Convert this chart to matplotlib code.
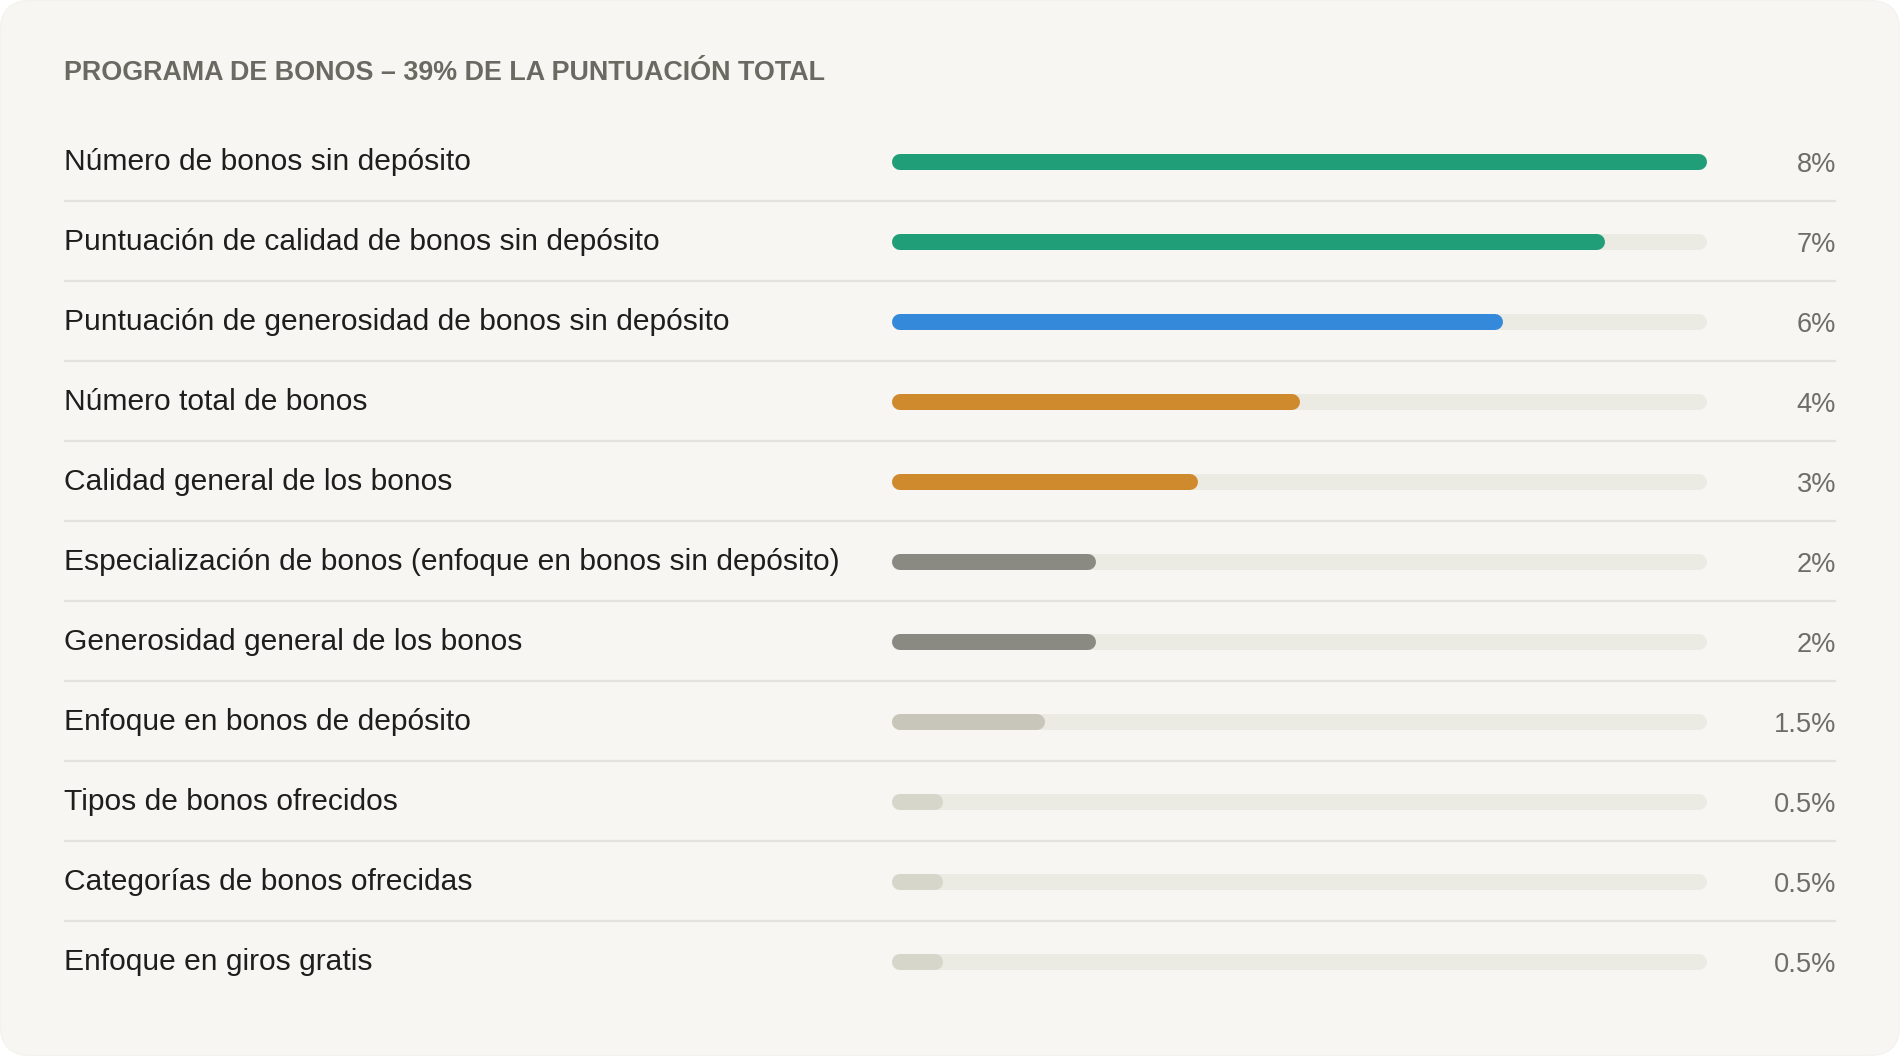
import numpy as np
import matplotlib.pyplot as plt
from matplotlib.patches import FancyBboxPatch

# datos del gráfico
categorias = [
    "Número de bonos sin depósito",
    "Puntuación de calidad de bonos sin depósito",
    "Puntuación de generosidad de bonos sin depósito",
    "Número total de bonos",
    "Calidad general de los bonos",
    "Especialización de bonos (enfoque en bonos sin depósito)",
    "Generosidad general de los bonos",
    "Enfoque en bonos de depósito",
    "Tipos de bonos ofrecidos",
    "Categorías de bonos ofrecidas",
    "Enfoque en giros gratis",
]
pesos = [8, 7, 6, 4, 3, 2, 2, 1.5, 0.5, 0.5, 0.5]
peso_max = 8
colores = ["#1f9e78", "#1f9e78", "#3589db", "#d08a2e", "#d08a2e",
           "#8a8a82", "#8a8a82", "#c8c6ba", "#d7d6cb", "#d7d6cb", "#d7d6cb"]
titulo = "PROGRAMA DE BONOS – 39% DE LA PUNTUACIÓN TOTAL"

plt.rcParams['font.family'] = ['Liberation Sans', 'DejaVu Sans']

W, H = 1900, 1056
fig = plt.figure(figsize=(W / 100, H / 100), dpi=100)
fig.patch.set_facecolor('white')

# fondo tipo tarjeta
bg = fig.add_axes([0, 0, 1, 1])
bg.set_xlim(0, W)
bg.set_ylim(H, 0)
bg.axis('off')
bg.add_patch(FancyBboxPatch((0.5, 0.5), W - 1, H - 1,
                            boxstyle='round,pad=0,rounding_size=30',
                            fc='#f7f6f2', ec='#f3f2ee', lw=1))
bg.text(64, 72.5, titulo, fontsize=19.4, fontweight='bold', color='#6b6a62',
        ha='left', va='center')

n = len(categorias)
row_top, row_h = 122, 80
y0 = (H - (row_top + row_h * n)) / H
hh = row_h * n / H

# filas: etiquetas, valores y separadores
ax = fig.add_axes([64 / W, y0, (1836 - 64) / W, hh])
ax.set_xlim(0, 1)
ax.set_ylim(n - 0.5, -0.5)
ax.axis('off')
for i, (cat, v) in enumerate(zip(categorias, pesos)):
    ax.text(0, i, cat, fontsize=21.6, color='#1e1e1c',
            ha='left', va='center')
    ax.text(1, i + 0.035, f"{v:g}%", fontsize=19.6, color='#6e6e68',
            ha='right', va='center')
    if i < n - 1:
        ax.axhline(i + 0.49, color='#e4e2dc', lw=1.6)

# barras redondeadas
bx = fig.add_axes([892 / W, y0, 815 / W, hh], sharey=ax)
bx.set_xlim(0, peso_max)
bx.axis('off')
lw_px = 16
r = (lw_px / 2) * peso_max / 815
for i, (v, c) in enumerate(zip(pesos, colores)):
    bx.plot([r, peso_max - r], [i, i], color='#ecebe3', lw=lw_px * 0.72,
            solid_capstyle='round')
    bx.plot([r, max(v - r, r)], [i, i], color=c, lw=lw_px * 0.72,
            solid_capstyle='round')

plt.savefig("out.png", dpi=100, facecolor=fig.get_facecolor())
